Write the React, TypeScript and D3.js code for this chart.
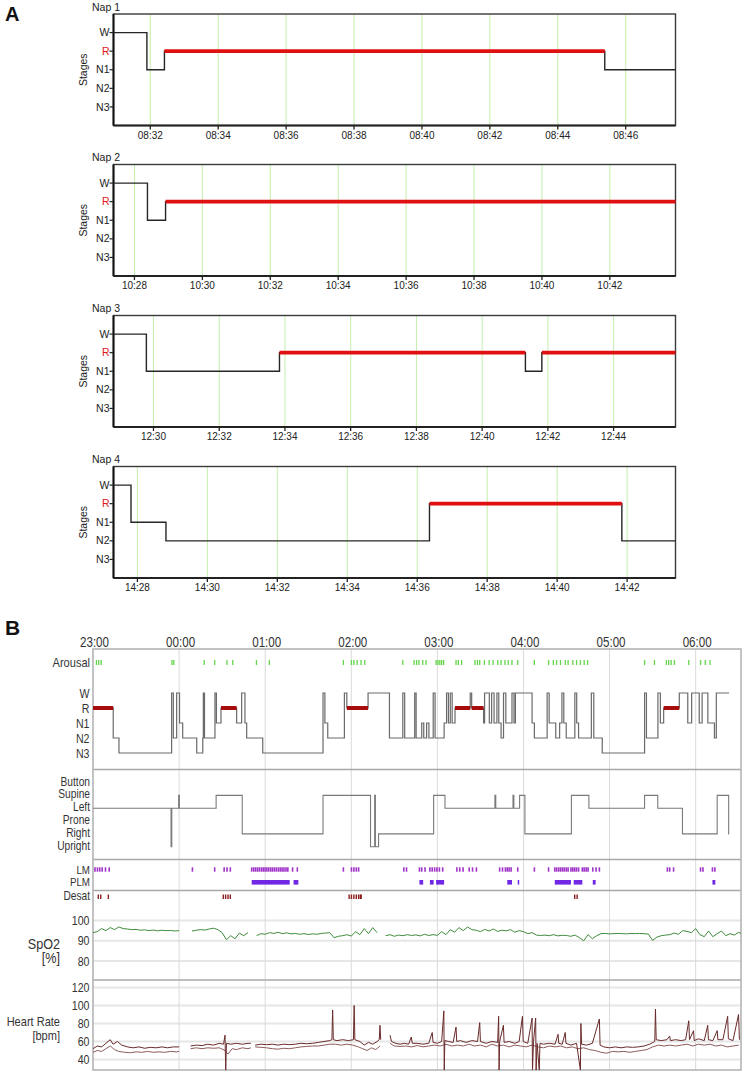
import React from "react";
import * as d3 from "d3";

const FONT = "'Liberation Sans', Arial, Helvetica, sans-serif";

// ---------------- Panel A data ----------------
const stageLabels = ["W", "R", "N1", "N2", "N3"];
const napTitles = ["Nap 1", "Nap 2", "Nap 3", "Nap 4"];
const napStarts = ["08:30:55", "10:27:23", "12:28:47", "14:27:19"];
const napEnds = ["08:47:28", "10:43:56", "12:45:53", "14:43:23"];
const nap1Ticks = ["08:32", "08:34", "08:36", "08:38", "08:40", "08:42", "08:44", "08:46"];
const nap2Ticks = ["10:28", "10:30", "10:32", "10:34", "10:36", "10:38", "10:40", "10:42"];
const nap3Ticks = ["12:30", "12:32", "12:34", "12:36", "12:38", "12:40", "12:42", "12:44"];
const nap4Ticks = ["14:28", "14:30", "14:32", "14:34", "14:36", "14:38", "14:40", "14:42"];
const nap1Stages: [string, string][] = [["08:30:55", "W"], ["08:31:54", "N1"], ["08:32:25", "R"], ["08:45:23", "N1"]];
const nap2Stages: [string, string][] = [["10:27:23", "W"], ["10:28:23", "N1"], ["10:28:55", "R"]];
const nap3Stages: [string, string][] = [["12:28:47", "W"], ["12:29:47", "N1"], ["12:33:50", "R"], ["12:41:19", "N1"], ["12:41:49", "R"]];
const nap4Stages: [string, string][] = [["14:27:19", "W"], ["14:27:49", "N1"], ["14:28:49", "N2"], ["14:36:21", "R"], ["14:41:51", "N2"]];
const napTicks = [nap1Ticks, nap2Ticks, nap3Ticks, nap4Ticks];
const napStages = [nap1Stages, nap2Stages, nap3Stages, nap4Stages];

// ---------------- Panel B data (minutes after 23:00) ----------------
const hourLabels = ["23:00", "00:00", "01:00", "02:00", "03:00", "04:00", "05:00", "06:00"];
const nightEnd = 451.6;
const hypnoEnd = 443.3;
const hypnoB: [number, string][] = [
  [0, "R"], [14.1, "N2"], [18.1, "N3"], [54.8, "W"], [56, "N2"], [58.3, "W"], [60.3, "N1"], [62.5, "N2"],
  [72.3, "N3"], [76.5, "N2"], [76.9, "W"], [77.7, "N2"], [85, "W"], [86, "N1"], [89.2, "R"], [100.1, "N1"],
  [103.6, "W"], [105.9, "N1"], [107.1, "N2"], [118.3, "N3"], [160.3, "W"], [161.6, "N1"], [163.6, "N2"],
  [175.2, "W"], [176.9, "R"], [191.7, "W"], [206.6, "N2"], [215.9, "W"], [217.2, "N2"], [224.2, "W"],
  [225.2, "N2"], [229.1, "N1"], [230.5, "N2"], [232.5, "N1"], [234.1, "N2"], [237.1, "W"], [238.4, "N2"],
  [244.7, "N1"], [246.4, "W"], [247.7, "N1"], [249, "W"], [250.3, "N1"], [252.3, "R"], [262.9, "W"],
  [263.9, "R"], [272.2, "N1"], [272.9, "W"], [276.2, "N1"], [277.8, "W"], [279.5, "N1"], [281.5, "W"],
  [282.8, "N1"], [284.4, "N2"], [286.1, "W"], [287.7, "N1"], [292, "W"], [293.4, "N1"], [294.4, "W"],
  [306, "N1"], [307.6, "N2"], [316.5, "W"], [317.9, "N1"], [322.5, "N2"], [325.2, "N1"], [326.8, "W"],
  [328.1, "N1"], [329.8, "N2"], [335.8, "W"], [337.1, "N1"], [338.4, "N2"], [347.3, "W"], [349, "N2"],
  [354.9, "N3"], [384.4, "W"], [385.7, "N2"], [393.7, "W"], [395.4, "N1"], [397.7, "R"], [408.6, "W"],
  [414.5, "N1"], [417.2, "W"], [422.5, "N1"], [424.5, "W"], [428.5, "N1"], [433.1, "N2"], [434.4, "W"],
];
const positionLabels = ["Button", "Supine", "Left", "Prone", "Right", "Upright"];
const positionB: [number, string][] = [
  [0, "Left"], [54.4, "Upright"], [54.9, "Left"], [59.7, "Supine"], [60.2, "Left"], [85.8, "Supine"],
  [104, "Right"], [160.3, "Supine"], [193.4, "Upright"], [196.3, "Supine"], [196.8, "Upright"],
  [199, "Right"], [237.4, "Supine"], [245.3, "Left"], [280.1, "Supine"], [280.7, "Left"], [292.7, "Supine"],
  [293.3, "Left"], [297.3, "Supine"], [301, "Right"], [333.4, "Supine"], [345.6, "Left"], [384.4, "Supine"],
  [393.6, "Left"], [410.8, "Right"], [435, "Supine"], [443, "Right"],
];
const arousalB = [
  2.4, 4.0, 5.7, 55.0, 56.3, 77.5, 84.8, 93.4, 97.4, 113.9, 122.9, 174.5, 180.1, 181.8, 184.1, 186.8, 189.4,
  215.9, 223.8, 225.5, 227.1, 229.8, 232.1, 239.1, 240.4, 241.7, 243.0, 244.4, 253.0, 254.6, 256.9, 266.2,
  267.9, 269.5, 272.8, 276.1, 278.8, 282.1, 284.4, 287.1, 289.4, 292.0, 296.0, 307.6, 317.5, 320.8, 323.1,
  325.8, 329.1, 331.1, 334.4, 337.0, 339.7, 342.3, 344.7, 384.4, 391.3, 399.6, 401.2, 402.9, 405.2, 415.2,
  423.4, 426.7, 430.0,
];
const lmB = [
  1.4, 3.1, 4.7, 6.4, 8.7, 11.3, 69.3, 84.8, 91.4, 93.4, 95.7, 110.6, 112, 113.3, 114.6, 115.9, 117.3, 118.6,
  119.9, 121.2, 122.5, 123.9, 125.2, 126.5, 127.8, 129.2, 130.5, 131.8, 133.1, 134.5, 135.8, 139.1, 142.4,
  174.5, 180.1, 181.8, 183.5, 185.1, 216.6, 218.5, 227.5, 229.1, 231.4, 234.8, 236.4, 238.1, 239.7, 241.4,
  243.7, 253.6, 255.6, 257.9, 262.2, 264.5, 267.2, 283.4, 285.4, 287.4, 288.7, 290.0, 291.4, 296.0, 307.6,
  317.5, 321.8, 323.1, 324.5, 325.8, 327.1, 328.4, 329.8, 331.1, 333.1, 334.4, 335.7, 337.0, 338.4, 341.0,
  342.3, 343.7, 345.0, 348.3, 350.6, 352.9, 400.3, 401.9, 404.6, 423.4, 425.1, 431.7, 433.4,
];
const plmB: [number, number][] = [
  [110.6, 137.1], [139.8, 143.1], [227.5, 230.1], [234.8, 237.4], [239.1, 244.7], [288.7, 292.0],
  [296.0, 296.7], [321.8, 333.1], [335.0, 341.0], [348.3, 350.3], [431.7, 433.7],
];
const desatB = [3.7, 5.4, 10.7, 90.8, 92.4, 94.1, 95.7, 178.5, 180.1, 181.8, 183.5, 185.1, 186.3, 186.9, 335.7, 337.4];
const spo2Ticks = [100, 90, 80];
const hrTicks = [120, 100, 80, 60, 40];
const spo2B: (number | null)[] = [
  94, 94.5, 96, 95, 96.5, 95.5, 96.8, 96, 95.8, 95.5, 95.6, 95.2, 95.4, 95, 95.3, 94.9, 95.2, 95, 95.1, 94.8,
  95, null, null, 94.8, 95.2, 95.5, 95.3, 95.8, 96.2, 95.5, 94, 90.5, 92.5, 91, 93.8, 92.5, 94, null, 92.5,
  93.5, 93.2, 94, 93.6, 94.2, 93.5, 93.9, 93.4, 93.6, 93.2, 93.5, 93.1, 93.4, 93.2, 93.6, 93.8, 94, 91.5,
  92.2, 92.5, 93, 92.3, 94.5, 93, 96, 93.5, 96.5, 94, null, 92.5, 93, 92.2, 92.8, 92.5, 93, 92.6, 92.9, 92.4,
  93.2, 92.6, 93, 92.7, 94.5, 93, 95.5, 94.2, 96.5, 95, 96.8, 95.5, 95.2, 94.5, 95.6, 94.8, 95.8, 94.6, 95.2,
  94.9, 95.5, 94.2, 95, 94.5, 93.5, 94, 92.8, 92.6, 92.8, 92.5, 93, 92.4, 92.7, 92.6, 92.2, 92.8, 91.5, 90,
  93, 91, 92.5, 93.5, 93.6, 93.4, 93.5, 93.6, 93.5, 93.4, 93.6, 93.5, 93.6, 93.5, 93.3, 90.2, 91.8, 92.5, 92.8,
  93, 93.8, 93.2, 95, 94.6, 94, 96, 93, 92, 94.8, 92, 93.5, 94.8, 92.5, 93.5, 92.8, 94.2, 93,
];
const spo2Step = 3;
const hrUpper: [number, number | null][] = [
  [0, 52], [3, 55], [6, 54], [9, 58], [12, 62], [14, 57], [17, 60], [20, 56], [24, 54], [28, 53], [32, 54],
  [36, 52.5], [40, 53.5], [44, 53], [48, 54], [52, 53], [56, 54], [60, 54], [61, null],
  [68, 55], [72, 56], [76, 55.5], [80, 57], [84, 56], [88, 58], [91, 57], [92, 67], [92.5, 28], [93, 58],
  [96, 57], [100, 58], [104, 57], [108, 58], [110, 58], [111, null],
  [113, 56], [117, 57], [121, 56.5], [125, 57], [129, 56], [133, 57], [137, 56.5], [141, 57], [145, 58],
  [149, 57.5], [153, 58], [157, 59], [161, 60], [165, 61], [166.5, 62], [167, 95], [167.5, 62], [170, 61],
  [174, 62], [178, 61], [181.5, 62], [182, 100], [182.5, 62], [186, 60], [189, 56], [192, 59], [195, 57],
  [198, 60], [199.5, 62], [200, 78], [200.5, 62], [201, null],
  [207, 67], [208, 60], [211, 58], [214, 57], [217, 58], [220, 57], [221.8, 65], [222.5, 58], [226, 58],
  [230, 57], [234, 58], [236.4, 70], [237, 59], [240, 58], [243, 60], [244.5, 94], [244.8, 28], [245.2, 61],
  [248, 60], [251, 59], [253, 76], [253.5, 60], [256, 61], [260, 59], [264, 61], [268, 60], [269.5, 81],
  [270, 60], [274, 58], [278, 60], [282, 59], [282.7, 88], [283, 28], [283.4, 60], [286, 78], [286.5, 59],
  [290, 60], [294, 58], [297, 60], [299.3, 88], [299.8, 60], [303, 58], [306, 86], [306.3, 28], [307, 60],
  [308.5, 86], [308.8, 28], [309.5, 58], [311, 28], [311.5, 58], [314, 57], [318, 58], [322, 57], [324.1, 68],
  [324.6, 58], [327, 57], [329.1, 70], [329.6, 58], [333, 56], [337, 58], [339.7, 28], [340, 80], [340.5, 57],
  [344, 56], [348, 58], [352.9, 85], [353.4, 56], [356, 54], [360, 53], [364, 54], [368, 53], [372, 54],
  [376, 53.5], [380, 54], [384, 55], [388, 57], [391.5, 60], [392, 96], [392.5, 62], [396, 61], [400, 62],
  [401.9, 66], [402.4, 61], [406, 62], [410, 61], [413, 62], [415.2, 83], [415.7, 62], [418.5, 72], [419, 61],
  [422, 63], [426, 61], [428.4, 78], [428.9, 62], [432, 61], [435, 72], [435.5, 62], [439, 62], [442.3, 88],
  [442.8, 63], [446, 61], [449.9, 90], [450.5, 62],
];
const hrLower: [number, number | null][] = [
  [0, 48], [3, 50], [6, 49], [9, 52], [12, 55], [15, 51], [18, 49], [22, 48], [26, 47.5], [30, 48.5], [34, 48],
  [38, 49], [42, 48], [46, 48.5], [50, 48], [54, 49], [58, 48.5], [60, 49], [61, null],
  [68, 52], [72, 53], [76, 52], [80, 53], [84, 52.5], [88, 53], [92, 50], [94, 46], [97, 52], [100, 51],
  [104, 53], [108, 52], [110, 53], [111, null],
  [113, 54], [117, 53.5], [121, 53], [125, 52], [129, 51.5], [133, 52.5], [137, 52], [141, 53], [145, 54],
  [149, 54.5], [153, 55], [157, 55], [161, 56], [165, 57], [169, 57], [173, 56], [177, 57], [181, 56],
  [185, 54], [188, 52], [191, 50], [194, 53], [197, 51], [200, 55], [201, null],
  [207, 58], [210, 55], [214, 54.5], [218, 55], [222, 54], [226, 55.5], [230, 54], [234, 55], [238, 56],
  [242, 55], [246, 57], [250, 55], [254, 56], [258, 55], [262, 57], [266, 55], [270, 56], [274, 54], [278, 57],
  [282, 55], [286, 56], [290, 54], [294, 56], [298, 55], [302, 54], [306, 56], [310, 54], [314, 53], [318, 55],
  [322, 54], [326, 55], [330, 53], [334, 54], [338, 52], [342, 53], [346, 51], [350, 50], [354, 48], [358, 47],
  [362, 49], [366, 48.5], [370, 49], [374, 48], [378, 49], [382, 50], [386, 51], [390, 54], [394, 56],
  [398, 55], [402, 56], [406, 55], [410, 56], [414, 57], [418, 55], [422, 57], [426, 56], [430, 57], [434, 55],
  [438, 56], [442, 54], [446, 55], [450, 56],
];

// ---------------- helpers ----------------
const toMin = (s: string) => {
  const p = s.split(":").map(Number);
  return p[0] * 60 + p[1] + (p[2] || 0) / 60;
};

// Panel A layout
const PL = 113.5;
const PR = 675.5;
const NAP_TOPS = [14, 164.5, 315.5, 466.5];
const NAP_H = 111.5;

function Nap({ idx }: { idx: number }) {
  const top = NAP_TOPS[idx];
  const bottom = top + NAP_H;
  const x = d3.scaleLinear().domain([toMin(napStarts[idx]), toMin(napEnds[idx])]).range([PL, PR]);
  const y = d3.scaleLinear().domain([0, 6]).range([top, bottom]);
  const sy = (s: string) => y(stageLabels.indexOf(s) + 1);
  const segs = napStages[idx];
  const endT = toMin(napEnds[idx]);
  const pts: [number, number][] = segs.map(([t, s]) => [x(toMin(t)), sy(s)]);
  pts.push([x(endT), sy(segs[segs.length - 1][1])]);
  const path = d3.line().curve(d3.curveStepAfter)(pts) || "";
  const rSegs = segs
    .map(([t, s], i) => ({ s, a: toMin(t), b: i + 1 < segs.length ? toMin(segs[i + 1][0]) : endT }))
    .filter((d) => d.s === "R");
  return (
    <g fontFamily={FONT}>
      <text x={92} y={top - 3.5} fontSize={10.5} fill="#222">{napTitles[idx]}</text>
      {napTicks[idx].map((t) => (
        <line key={"g" + t} x1={x(toMin(t))} x2={x(toMin(t))} y1={top} y2={bottom} stroke="#c4eeaa" strokeWidth={1} />
      ))}
      <rect x={PL} y={top} width={PR - PL} height={NAP_H} fill="none" stroke="#3a3a3a" strokeWidth={1.4} />
      <line x1={PL} x2={PL} y1={top} y2={bottom} stroke="#111" strokeWidth={2} />
      <line x1={PL} x2={PR} y1={bottom} y2={bottom} stroke="#222" strokeWidth={1.8} />
      {napTicks[idx].map((t) => (
        <g key={"t" + t}>
          <line x1={x(toMin(t))} x2={x(toMin(t))} y1={bottom} y2={bottom + 4} stroke="#222" strokeWidth={1.3} />
          <text x={x(toMin(t))} y={bottom + 13} fontSize={10} textAnchor="middle" fill="#222">{t}</text>
        </g>
      ))}
      {stageLabels.map((s) => (
        <g key={s}>
          <line x1={PL - 4} x2={PL} y1={sy(s)} y2={sy(s)} stroke="#222" strokeWidth={1.2} />
          <text x={PL - 4} y={sy(s) + 3.6} fontSize={10.5} textAnchor="end" fill={s === "R" ? "#e01818" : "#222"}>{s}</text>
        </g>
      ))}
      <text transform={`translate(87,${(top + bottom) / 2}) rotate(-90)`} fontSize={10.5} textAnchor="middle" fill="#222">Stages</text>
      <path d={path} fill="none" stroke="#262626" strokeWidth={1.4} />
      {rSegs.map((d, i) => (
        <line key={i} x1={x(d.a)} x2={x(d.b)} y1={sy("R")} y2={sy("R")} stroke="#e01010" strokeWidth={3.6} />
      ))}
    </g>
  );
}

// Panel B layout
const BL = 93;
const BR = 741;
const BT = 649;
const BB = 1070;
const xB = d3.scaleLinear().domain([0, nightEnd]).range([BL, BR]);
const yStageB = d3.scalePoint<string>().domain(stageLabels).range([693, 753]);
const yPos = d3.scalePoint<string>().domain(positionLabels).range([782.5, 846.7]);
const ySpo2 = d3.scaleLinear().domain([80, 100]).range([961, 920.5]);
const yHR = d3.scaleLinear().domain([40, 120]).range([1059.5, 987.5]);

function NT({ x, y, anchor = "end", size = 13, sx = 0.85, children }: any) {
  return (
    <text transform={`translate(${x},${y}) scale(${sx},1)`} textAnchor={anchor} fontSize={size} fill="#333" fontFamily={FONT}>
      {children}
    </text>
  );
}

function PanelB() {
  const hypPts: [number, number][] = hypnoB.map(([t, s]) => [xB(t), yStageB(s) as number]);
  hypPts.push([xB(hypnoEnd), yStageB(hypnoB[hypnoB.length - 1][1]) as number]);
  const hypPath = d3.line().curve(d3.curveStepAfter)(hypPts) || "";
  const rSegs = hypnoB
    .map(([t, s], i) => ({ s, a: t, b: i + 1 < hypnoB.length ? hypnoB[i + 1][0] : hypnoEnd }))
    .filter((d) => d.s === "R");
  const posPts: [number, number][] = positionB.map(([t, s]) => [xB(t), yPos(s) as number]);
  posPts.push([xB(hypnoEnd), yPos(positionB[positionB.length - 1][1]) as number]);
  const posPath = d3.line().curve(d3.curveStepAfter)(posPts) || "";
  const spoLine = d3
    .line<number | null>()
    .defined((d) => d !== null)
    .x((_, i) => xB(i * spo2Step))
    .y((d) => ySpo2(d as number));
  const hrLine = d3
    .line<[number, number | null]>()
    .defined((d) => d[1] !== null)
    .x((d) => xB(d[0]))
    .y((d) => yHR(d[1] as number));
  const seps = [769.5, 859.5, 890.5, 980];
  return (
    <g>
      <defs>
        <clipPath id="hrclip">
          <rect x={BL} y={980} width={BR - BL} height={BB - 980} />
        </clipPath>
        <clipPath id="spclip">
          <rect x={BL} y={891} width={BR - BL} height={89} />
        </clipPath>
      </defs>
      {spo2Ticks.map((v) => (
        <line key={"s" + v} x1={BL} x2={BR} y1={ySpo2(v)} y2={ySpo2(v)} stroke="#e6e6e6" strokeWidth={2} />
      ))}
      {hrTicks.map((v) => (
        <line key={"h" + v} x1={BL} x2={BR} y1={yHR(v)} y2={yHR(v)} stroke="#e6e6e6" strokeWidth={2} />
      ))}
      {hourLabels.map((h, i) =>
        i > 0 ? <line key={h} x1={xB(i * 60)} x2={xB(i * 60)} y1={BT} y2={BB} stroke="#dadada" strokeWidth={1} /> : null
      )}
      {seps.map((s) => (
        <line key={s} x1={BL} x2={BR} y1={s} y2={s} stroke="#a8a8a8" strokeWidth={1.5} />
      ))}
      <rect x={BL} y={BT} width={BR - BL} height={BB - BT} fill="none" stroke="#b4b4b4" strokeWidth={1.6} />
      {hourLabels.map((h, i) => (
        <NT key={h} x={xB(i * 60) + 1.5} y={646.5} anchor="middle" size={14.5} sx={0.8}>{h}</NT>
      ))}
      <NT x={90} y={667}>Arousal</NT>
      {arousalB.map((t, i) => (
        <line key={i} x1={xB(t)} x2={xB(t)} y1={660} y2={665} stroke="#63d64a" strokeWidth={1.3} />
      ))}
      {stageLabels.map((s) => (
        <NT key={s} x={89.5} y={(yStageB(s) as number) + 4.5} size={12.5}>{s}</NT>
      ))}
      <path d={hypPath} fill="none" stroke="#6a6a6a" strokeWidth={1.2} />
      {rSegs.map((d, i) => (
        <line key={i} x1={xB(d.a)} x2={xB(d.b)} y1={yStageB("R") as number} y2={yStageB("R") as number} stroke="#a60d0d" strokeWidth={4} />
      ))}
      {positionLabels.map((s) => (
        <NT key={s} x={90} y={(yPos(s) as number) + 3} size={12}>{s}</NT>
      ))}
      <path d={posPath} fill="none" stroke="#7a7a7a" strokeWidth={1.1} />
      <NT x={90} y={874} size={11.5}>LM</NT>
      <NT x={90} y={885.5} size={11.5}>PLM</NT>
      {lmB.map((t, i) => (
        <line key={i} x1={xB(t)} x2={xB(t)} y1={867.3} y2={871.7} stroke="#a033c8" strokeWidth={1.6} />
      ))}
      {plmB.map(([a, b], i) => (
        <rect key={i} x={xB(a)} y={880} width={Math.max(1.5, xB(b) - xB(a))} height={4.6} fill="#7028e4" />
      ))}
      <NT x={90} y={899.5} size={12}>Desat</NT>
      {desatB.map((t, i) => (
        <line key={i} x1={xB(t)} x2={xB(t)} y1={894.5} y2={899} stroke="#8c1e1e" strokeWidth={1.4} />
      ))}
      {spo2Ticks.map((v) => (
        <NT key={v} x={89.5} y={ySpo2(v) + 4.5} size={12.5}>{v}</NT>
      ))}
      <NT x={60} y={948.5} size={14} sx={0.9}>SpO2</NT>
      <NT x={60} y={962.5} size={14} sx={0.9}>[%]</NT>
      <path d={spoLine(spo2B) || ""} fill="none" stroke="#3f8c3c" strokeWidth={1} clipPath="url(#spclip)" />
      {hrTicks.map((v) => (
        <NT key={v} x={89.5} y={yHR(v) + 4.5} size={12.5}>{v}</NT>
      ))}
      <NT x={60} y={1026} size={13}>Heart Rate</NT>
      <NT x={60} y={1040} size={13}>[bpm]</NT>
      <g clipPath="url(#hrclip)">
        <path d={hrLine(hrLower) || ""} fill="none" stroke="#8e5c5c" strokeWidth={1} />
        <path d={hrLine(hrUpper) || ""} fill="none" stroke="#6a2a2a" strokeWidth={1} />
      </g>
    </g>
  );
}

export default function App() {
  return (
    <svg
      width={745}
      height={1074}
      viewBox="0 0 745 1074"
      style={{ position: "absolute", left: 0, top: 0, display: "block", background: "#fff" }}
    >
      <rect x={0} y={0} width={745} height={1074} fill="#fff" />
      <text x={5} y={21} fontSize={20} fontWeight="bold" fontFamily={FONT} fill="#111">A</text>
      {napTitles.map((_, i) => (
        <Nap key={i} idx={i} />
      ))}
      <text x={5} y={635} fontSize={21} fontWeight="bold" fontFamily={FONT} fill="#111">B</text>
      <PanelB />
    </svg>
  );
}
